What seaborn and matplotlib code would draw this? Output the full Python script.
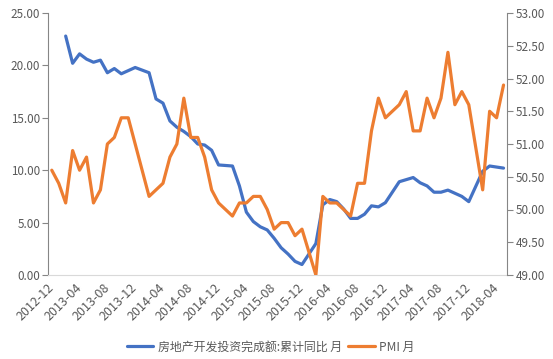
import numpy as np
import pandas as pd
import matplotlib
matplotlib.use("Agg")
import matplotlib.pyplot as plt
import seaborn as sns

months = ["2012-12"] + [f"{y}-{m:02d}" for y in range(2013, 2019) for m in range(1, 13)]
months = months[:66]

invest = [np.nan, np.nan, 22.8, 20.2, 21.1, 20.6, 20.3, 20.5, 19.3, 19.7, 19.2, 19.5, 19.8,
          np.nan, 19.3, 16.8, 16.4, 14.7, 14.1, 13.7, 13.2, 12.5, 12.4, 11.9, 10.5,
          np.nan, 10.4, 8.5, 6.0, 5.1, 4.6, 4.3, 3.5, 2.6, 2.0, 1.3, 1.0,
          np.nan, 3.0, 6.7, 7.2, 7.0, 6.3, 5.4, 5.4, 5.8, 6.6, 6.5, 6.9,
          np.nan, 8.9, 9.1, 9.3, 8.8, 8.5, 7.9, 7.9, 8.1, 7.8, 7.5, 7.0,
          np.nan, 9.9, 10.4, 10.3, 10.2]

pmi = [50.6, 50.4, 50.1, 50.9, 50.6, 50.8, 50.1, 50.3, 51.0, 51.1, 51.4, 51.4, 51.0,
       np.nan, 50.2, 50.3, 50.4, 50.8, 51.0, 51.7, 51.1, 51.1, 50.8, 50.3, 50.1,
       np.nan, 49.9, 50.1, 50.1, 50.2, 50.2, 50.0, 49.7, 49.8, 49.8, 49.6, 49.7,
       np.nan, 49.0, 50.2, 50.1, 50.1, 50.0, 49.9, 50.4, 50.4, 51.2, 51.7, 51.4,
       np.nan, 51.6, 51.8, 51.2, 51.2, 51.7, 51.4, 51.7, 52.4, 51.6, 51.8, 51.6,
       np.nan, 50.3, 51.5, 51.4, 51.9]

label1 = "房地产开发投资完成额:累计同比 月"
label2 = "PMI 月"

sns.set_style("white")
plt.rcParams['font.family'] = ['Noto Sans CJK SC', 'DejaVu Sans']

df = pd.DataFrame({"idx": np.arange(len(months)), "month": months,
                   "invest": invest, "pmi": pmi})

fig = plt.figure(figsize=(5.53, 3.59), dpi=100)
ax = fig.add_axes([48.3/553, 1-275/359, (507-48.3)/553, (275-13)/359])
ax2 = ax.twinx()

blue = "#4472C4"
orange = "#ED7D31"
d1 = df.dropna(subset=["invest"])
d2 = df.dropna(subset=["pmi"])
sns.lineplot(data=d1, x="idx", y="invest", ax=ax, color=blue, linewidth=2.3, label=label1, legend=False)
sns.lineplot(data=d2, x="idx", y="pmi", ax=ax2, color=orange, linewidth=2.3, label=label2, legend=False)
ax2.set_zorder(ax.get_zorder() + 1)
ax.patch.set_visible(False)

ax.set_xlim(-0.5, len(months) - 0.5)
ax.set_ylim(0, 25)
ax2.set_ylim(49, 53)
ax.set_yticks(np.arange(0, 25.01, 5))
ax2.set_yticks(np.arange(49, 53.01, 0.5))
ax.set_yticklabels([f"{v:.2f}" for v in np.arange(0, 25.01, 5)])
ax2.set_yticklabels([f"{v:.2f}" for v in np.arange(49, 53.01, 0.5)])

major = list(range(0, len(months), 4))
ax.set_xticks(major)
ax.set_xticklabels([months[i] for i in major], rotation=45, ha="right", va="center",
                   rotation_mode="anchor")
ax.set_xticks(np.arange(-0.5, len(months), 4), minor=True)
ax.set_xlabel("")
ax.set_ylabel("")
ax2.set_ylabel("")

tc = "#595959"
ax.tick_params(axis="x", which="major", length=0, pad=8, labelsize=9, labelcolor=tc)
ax.tick_params(axis="x", which="minor", length=4.5, color="#D9D9D9", width=0.8)
ax.tick_params(axis="y", length=4, color="#868686", width=0.8, labelsize=8.4, labelcolor=tc, pad=2)
ax2.tick_params(axis="y", length=4, color="#868686", width=0.8, labelsize=8.4, labelcolor=tc, pad=2)

for a in (ax, ax2):
    a.spines["top"].set_visible(False)
    a.spines["bottom"].set_color("#D9D9D9")
    a.spines["left"].set_color("#868686")
    a.spines["right"].set_color("#868686")
    for s in a.spines.values():
        s.set_linewidth(0.8)
ax2.spines["left"].set_visible(False)
ax2.spines["bottom"].set_visible(False)
ax.spines["right"].set_visible(False)

h1, l1 = ax.get_legend_handles_labels()
h2, l2 = ax2.get_legend_handles_labels()
fig.legend(h1 + h2, l1 + l2, loc="center", bbox_to_anchor=(0.49, 1 - 347/359), ncol=2,
           frameon=False, fontsize=8.6, labelcolor=tc, handlelength=2.2,
           handletextpad=0.4, columnspacing=0.5)

fig.savefig("out.png", dpi=100)
